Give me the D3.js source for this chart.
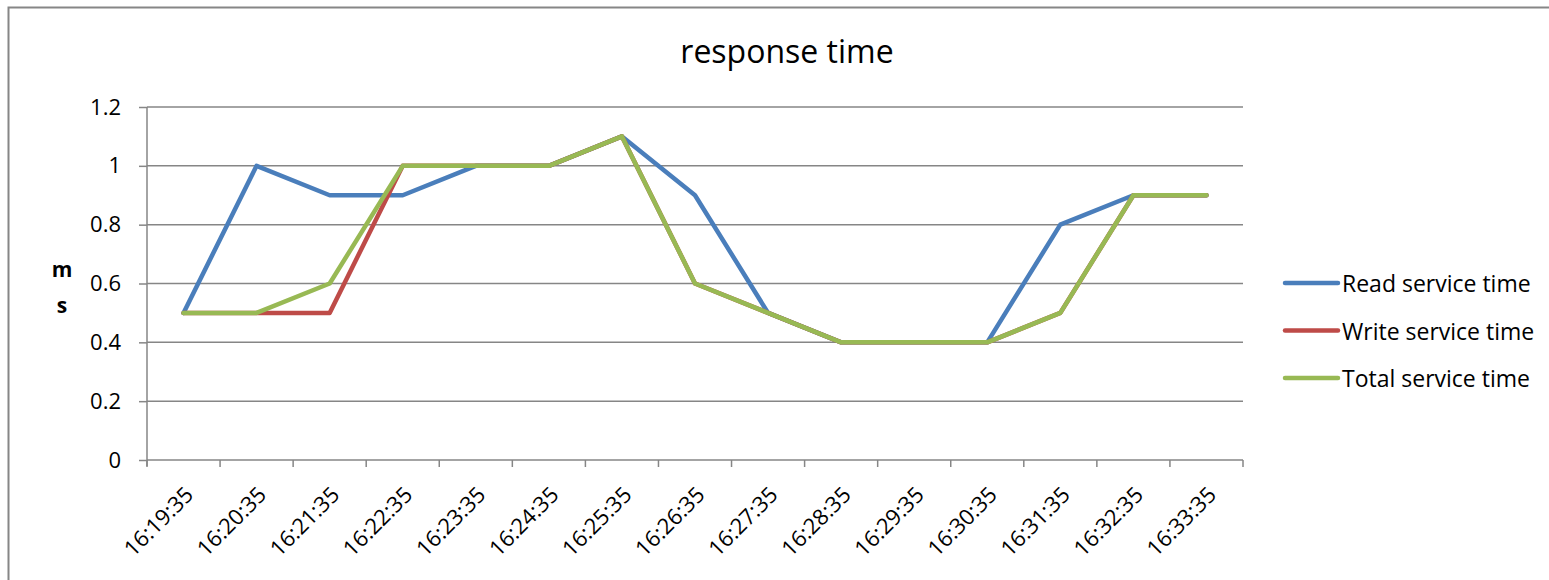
<!DOCTYPE html>
<html>
<head>
<meta charset="utf-8">
<script src="https://cdn.jsdelivr.net/npm/d3@7/dist/d3.min.js"></script>
<style>
  body { margin: 0; background: #fff; }
  svg { display: block; font-family: "Open Sans", Lato, sans-serif; }
</style>
</head>
<body>
<svg id="chart" width="1549" height="580"></svg>
<script>
// Sample times (one per minute)
const categories = ["16:19:35","16:20:35","16:21:35","16:22:35","16:23:35","16:24:35","16:25:35",
  "16:26:35","16:27:35","16:28:35","16:29:35","16:30:35","16:31:35","16:32:35","16:33:35"];
const readValues  = [0.5, 1.0, 0.9, 0.9, 1.0, 1.0, 1.1, 0.9, 0.5, 0.4, 0.4, 0.4, 0.8, 0.9, 0.9];
const writeValues = [0.5, 0.5, 0.5, 1.0, 1.0, 1.0, 1.1, 0.6, 0.5, 0.4, 0.4, 0.4, 0.5, 0.9, 0.9];
const totalValues = [0.5, 0.5, 0.6, 1.0, 1.0, 1.0, 1.1, 0.6, 0.5, 0.4, 0.4, 0.4, 0.5, 0.9, 0.9];
const yTicks = [0, 0.2, 0.4, 0.6, 0.8, 1, 1.2];

const series = [
  { name: "Read service time",  values: readValues,  color: "#4a7ebb" },
  { name: "Write service time", values: writeValues, color: "#be4b48" },
  { name: "Total service time", values: totalValues, color: "#98b954" }
];

const svg = d3.select("#chart");
const plot = { left: 147, right: 1243, top: 107, bottom: 460 };
const grid = "#868686";

// Chart frame
svg.append("path")
  .attr("d", `M8.5,580 V7.5 H1549`)
  .attr("fill", "none").attr("stroke", grid).attr("stroke-width", 2);

const x = d3.scaleBand().domain(categories).range([plot.left, plot.right]);
const y = d3.scaleLinear().domain([0, 1.2]).range([plot.bottom, plot.top]);

// Horizontal gridlines
svg.append("g").selectAll("line").data(yTicks.filter(d => d > 0)).join("line")
  .attr("x1", plot.left).attr("x2", plot.right)
  .attr("y1", d => y(d)).attr("y2", d => y(d))
  .attr("stroke", grid).attr("stroke-width", 1.5);

// Y axis
const yAxis = svg.append("g").attr("transform", `translate(${plot.left},0)`)
  .call(d3.axisLeft(y).tickValues(yTicks).tickFormat(d3.format("")).tickSize(8).tickPadding(18));
yAxis.select(".domain").attr("stroke", grid).attr("stroke-width", 1.5)
  .attr("d", `M0,${plot.top} V${plot.bottom + 6}`);
yAxis.selectAll(".tick line").attr("stroke", grid).attr("stroke-width", 1.5);
yAxis.selectAll(".tick text").attr("font-size", 22).attr("fill", "#000")
  .attr("font-family", "'Open Sans', Lato, sans-serif");

// X axis: ticks on category boundaries
const bounds = categories.map(c => x(c)).concat([plot.right]);
svg.append("line").attr("x1", plot.left).attr("x2", plot.right)
  .attr("y1", plot.bottom).attr("y2", plot.bottom)
  .attr("stroke", grid).attr("stroke-width", 1.5);
svg.append("g").selectAll("line").data(bounds).join("line")
  .attr("x1", d => d).attr("x2", d => d)
  .attr("y1", plot.bottom).attr("y2", plot.bottom + 7)
  .attr("stroke", grid).attr("stroke-width", 1.5);

svg.append("g").selectAll("text").data(categories).join("text")
  .attr("transform", d => `translate(${x(d) + x.bandwidth() / 2 + 7},${plot.bottom + 32}) rotate(-45)`)
  .attr("text-anchor", "end")
  .attr("dominant-baseline", "middle")
  .attr("font-size", 22)
  .attr("fill", "#000")
  .text(d => d);

// Series lines
const line = d3.line()
  .x((d, i) => x(categories[i]) + x.bandwidth() / 2)
  .y(d => y(d));
svg.append("g").selectAll("path").data(series).join("path")
  .attr("d", s => line(s.values))
  .attr("fill", "none")
  .attr("stroke", s => s.color)
  .attr("stroke-width", 4.5)
  .attr("stroke-linejoin", "round")
  .attr("stroke-linecap", "round");

// Title
svg.append("text").attr("x", 787).attr("y", 63).attr("text-anchor", "middle")
  .attr("font-size", 32).attr("fill", "#000").text("response time");

// Y axis unit label
svg.append("text").attr("x", 62).attr("y", 277).attr("text-anchor", "middle")
  .attr("font-size", 21).attr("font-weight", "bold").text("m");
svg.append("text").attr("x", 62).attr("y", 313).attr("text-anchor", "middle")
  .attr("font-size", 21).attr("font-weight", "bold").text("s");

// Legend
const legend = svg.append("g").selectAll("g").data(series).join("g")
  .attr("transform", (d, i) => `translate(1285,${283 + i * 47.5})`);
legend.append("line").attr("x1", 0).attr("x2", 53)
  .attr("stroke", d => d.color).attr("stroke-width", 4.5).attr("stroke-linecap", "round");
legend.append("text").attr("x", 57).attr("y", 0).attr("dominant-baseline", "central")
  .attr("font-size", 23).attr("fill", "#000").text(d => d.name);
</script>
</body>
</html>
